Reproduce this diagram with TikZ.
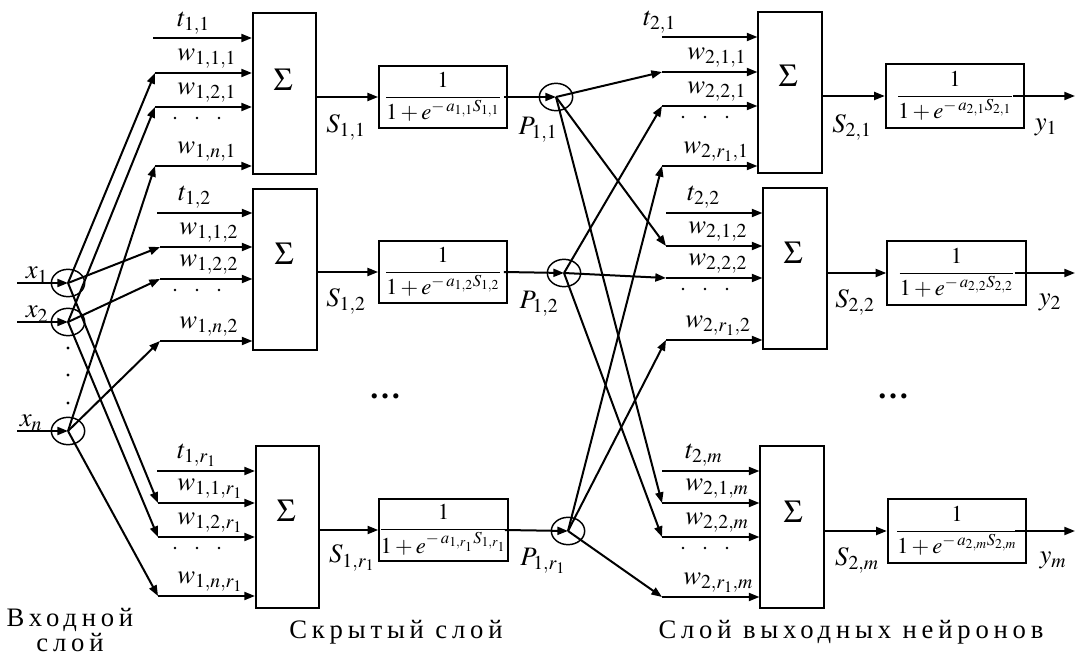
\documentclass[tikz,border=0pt]{standalone}
\usepackage{amsmath}
\usepackage{mathptmx}
\usepackage[no-math]{fontspec}
\setmainfont{Liberation Serif}
\newfontfamily\cyrfont[LetterSpace=18]{Liberation Serif}
\usetikzlibrary{arrows.meta,shapes.geometric,calc}
\begin{document}
\begin{tikzpicture}[x=0.75pt,y=-0.75pt,
  arr/.style={line width=1.5pt,-{Triangle[length=8pt,width=6pt]}},
  sumbox/.style={draw,line width=1.3pt,minimum width=47.5pt,minimum height=121pt,inner sep=0pt},
  sigL/.style={draw,line width=1.3pt,minimum width=96pt,minimum height=47pt,inner sep=0pt,font=\fontsize{17}{19}\selectfont},
  sigR/.style={draw,line width=1.3pt,minimum width=104pt,minimum height=48pt,inner sep=0pt,font=\fontsize{17}{19}\selectfont},
  circ/.style={draw,ellipse,line width=1.1pt,minimum width=25pt,minimum height=20.5pt,inner sep=0pt},
  lab/.style={anchor=south west,inner sep=0pt,font=\fontsize{20}{22}\selectfont},
  big/.style={inner sep=0pt,font=\fontsize{20}{22}\selectfont},
  sig/.style={inner sep=0pt,font=\fontsize{24}{26}\selectfont},
  cyr/.style={font=\cyrfont\fontsize{20}{19}\selectfont,align=center,inner sep=0pt}
]
\useasboundingbox (0,0) rectangle (1076,659);

% ---------- input layer ----------
\node[circ] (X1) at (68,283) {};
\node[circ] (X2) at (68,322) {};
\node[circ] (Xn) at (68,431) {};
\coordinate (I1) at (17,283);
\coordinate (I2) at (17,322);
\coordinate (In) at (17,431);
\draw[arr] (I1) -- (X1.center);
\draw[arr] (I2) -- (X2.center);
\draw[arr] (In) -- (Xn.center);
\node[big,anchor=base] (lx1) at (37,279) {$x_1$};
\node[big,anchor=base] (lx2) at (37,318) {$x_2$};
\node[big,anchor=base] (lxn) at (31,427) {$x_n$};
\foreach \yy in {348,375,403}{\fill (68,\yy) circle[radius=1.2pt];}

% ---------- hidden layer sum boxes ----------
\node[sumbox] (A1) at (284.5,93.5) {};
\node[sumbox] (A2) at (285,269.5) {};
\node[sumbox] (A3) at (287.5,527) {};
\node[sig] (sA1) at (283,80) {$\Sigma$};
\node[sig] (sA2) at (284,254) {$\Sigma$};
\node[sig] (sA3) at (286,511) {$\Sigma$};

\foreach \r/\yt/\ya/\yb/\yn/\xs/\xw in {1/38/73/107/166/153/155,2/213/247/279/341/157/160,3/471/503/537/596/157/158}{
  \coordinate (Lt\r) at (\xs,\yt);
  \coordinate (La\r) at (\xw,\ya);
  \coordinate (Lb\r) at (\xw,\yb);
  \coordinate (Ln\r) at (\xw,\yn);
  \foreach \c in {t,a,b,n}{\draw[arr] (L\c\r) -- (L\c\r -| A\r.west);}
  \foreach \dx in {175,197,219}{\fill (\dx,\yb+11) circle[radius=1.1pt];}
}

\node[lab] (tl1) at (177,35) {$t_{1,1}$};
\node[lab] (wl11) at (177,69) {$w_{1,1,1}$};
\node[lab] (wl21) at (177,103) {$w_{1,2,1}$};
\node[lab] (wln1) at (177,162) {$w_{1,n,1}$};
\node[lab] (tl2) at (178,209) {$t_{1,2}$};
\node[lab] (wl12) at (179,243) {$w_{1,1,2}$};
\node[lab] (wl22) at (179,275) {$w_{1,2,2}$};
\node[lab] (wln2) at (179,337) {$w_{1,n,2}$};
\node[lab] (tl3) at (177,467) {$t_{1,r_1}$};
\node[lab] (wl13) at (177,499) {$w_{1,1,r_1}$};
\node[lab] (wl23) at (177,533) {$w_{1,2,r_1}$};
\node[lab] (wln3) at (177,592) {$w_{1,n,r_1}$};

\draw[arr] (X1.center) -- (La1);
\draw[arr] (X1.center) -- (La2);
\draw[arr] (X1.center) -- (La3);
\draw[arr] (X2.center) -- (Lb1);
\draw[arr] (X2.center) -- (Lb2);
\draw[arr] (X2.center) -- (Lb3);
\draw[arr] (Xn.center) -- (Ln1);
\draw[arr] (Xn.center) -- (Ln2);
\draw[arr] (Xn.center) -- (Ln3);

% ---------- hidden layer activation ----------
\node[sigL] (F1) at (443,97) {$\displaystyle\frac{1}{1+e^{-\,a_{1,1}S_{1,1}}}$};
\node[sigL] (F2) at (443,272) {$\displaystyle\frac{1}{1+e^{-\,a_{1,2}S_{1,2}}}$};
\node[sigL] (F3) at (443.5,530) {$\displaystyle\frac{1}{1+e^{-\,a_{1,r_1}S_{1,r_1}}}$};
\draw[arr] (A1.east |- F1.west) -- (F1.west);
\draw[arr] (A2.east |- F2.west) -- (F2.west);
\draw[arr] (A3.east |- F3.west) -- (F3.west);
\node[big] (lS11) at (346,127) {$S_{1,1}$};
\node[big] (lS12) at (346,301) {$S_{1,2}$};
\node[big] (lS13) at (352,558) {$S_{1,r_1}$};

\node[circ] (P1) at (556,97) {};
\node[circ] (P2) at (564,273) {};
\node[circ] (P3) at (568,531) {};
\draw[arr] ($(F1.east)+(-4,0)$) -- (P1.center);
\draw[arr] ($(F2.east)+(-4,0)$) -- (P2.center);
\draw[arr] ($(F3.east)+(-4,0)$) -- (P3.center);
\node[big] (lP1) at (538,130) {$P_{1,1}$};
\node[big] (lP2) at (539,304) {$P_{1,2}$};
\node[big] (lP3) at (543,561) {$P_{1,r_1}$};

\node[big,font=\fontsize{24}{24}\selectfont\bfseries] (elL) at (385,396) {\ldots};

% ---------- output layer ----------
\node[sumbox] (B1) at (790,92.5) {};
\node[sumbox] (B2) at (795,268.5) {};
\node[sumbox] (B3) at (792,527) {};
\node[sig] (sB1) at (788,76) {$\Sigma$};
\node[sig] (sB2) at (793,253) {$\Sigma$};
\node[sig] (sB3) at (793,512) {$\Sigma$};

\foreach \r/\yt/\ya/\yb/\yn/\xs in {1/37/72/106/166/662,2/213/246/278/340/666,3/471/503/537/597/662}{
  \coordinate (Rt\r) at (\xs,\yt);
  \coordinate (Ra\r) at (\xs,\ya);
  \coordinate (Rb\r) at (\xs,\yb);
  \coordinate (Rn\r) at (\xs,\yn);
  \foreach \c in {t,a,b,n}{\draw[arr] (R\c\r) -- (R\c\r -| B\r.west);}
  \foreach \dx in {683,705,727}{\fill (\dx,\yb+11) circle[radius=1.1pt];}
}

\node[lab] (tr1) at (643,34) {$t_{2,1}$};
\node[lab] (wr11) at (687,68) {$w_{2,1,1}$};
\node[lab] (wr21) at (687,102) {$w_{2,2,1}$};
\node[lab] (wrn1) at (683,162) {$w_{2,r_1,1}$};
\node[lab] (tr2) at (687,209) {$t_{2,2}$};
\node[lab] (wr12) at (688,242) {$w_{2,1,2}$};
\node[lab] (wr22) at (688,274) {$w_{2,2,2}$};
\node[lab] (wrn2) at (685,336) {$w_{2,r_1,2}$};
\node[lab] (tr3) at (685,467) {$t_{2,m}$};
\node[lab] (wr13) at (685,499) {$w_{2,1,m}$};
\node[lab] (wr23) at (685,533) {$w_{2,2,m}$};
\node[lab] (wrn3) at (683,593) {$w_{2,r_1,m}$};

\draw[arr] (P1.center) -- (Ra1);
\draw[arr] (P1.center) -- (Ra2);
\draw[arr] (P1.center) -- (Ra3);
\draw[arr] (P2.center) -- (Rb1);
\draw[arr] (P2.center) -- (Rb2);
\draw[arr] (P2.center) -- (Rb3);
\draw[arr] (P3.center) -- (Rn1);
\draw[arr] (P3.center) -- (Rn2);
\draw[arr] (P3.center) -- (Rn3);

\node[sigR] (G1) at (955,96) {$\displaystyle\frac{1}{1+e^{-\,a_{2,1}S_{2,1}}}$};
\node[sigR] (G2) at (956.5,273) {$\displaystyle\frac{1}{1+e^{-\,a_{2,2}S_{2,2}}}$};
\node[sigR] (G3) at (957,531) {$\displaystyle\frac{1}{1+e^{-\,a_{2,m}S_{2,m}}}$};
\draw[arr] (B1.east |- G1.west) -- (G1.west);
\draw[arr] (B2.east |- G2.west) -- (G2.west);
\draw[arr] (B3.east |- G3.west) -- (G3.west);
\coordinate (O1) at (1075,96);
\coordinate (O2) at (1075,273);
\coordinate (O3) at (1075,531);
\draw[arr] ($(G1.east)+(-12,0)$) -- (O1);
\draw[arr] ($(G2.east)+(-12,0)$) -- (O2);
\draw[arr] ($(G3.east)+(-12,0)$) -- (O3);
\node[big] (lS21) at (852,127) {$S_{2,1}$};
\node[big] (lS22) at (855,302) {$S_{2,2}$};
\node[big] (lS23) at (857,560) {$S_{2,m}$};
\node[big] (ly1) at (1046,127) {$y_1$};
\node[big] (ly2) at (1050,302) {$y_2$};
\node[big] (lym) at (1053,560) {$y_m$};

\node[big,font=\fontsize{24}{24}\selectfont\bfseries] (elR) at (893,396) {\ldots};

% ---------- layer captions ----------
\node[cyr] (capIn) at (70,630) {Входной\\слой};
\node[cyr] (capHid) at (396,632) {Скрытый слой};
\node[cyr] (capOut) at (851,632) {Слой выходных нейронов};
\end{tikzpicture}
\end{document}
